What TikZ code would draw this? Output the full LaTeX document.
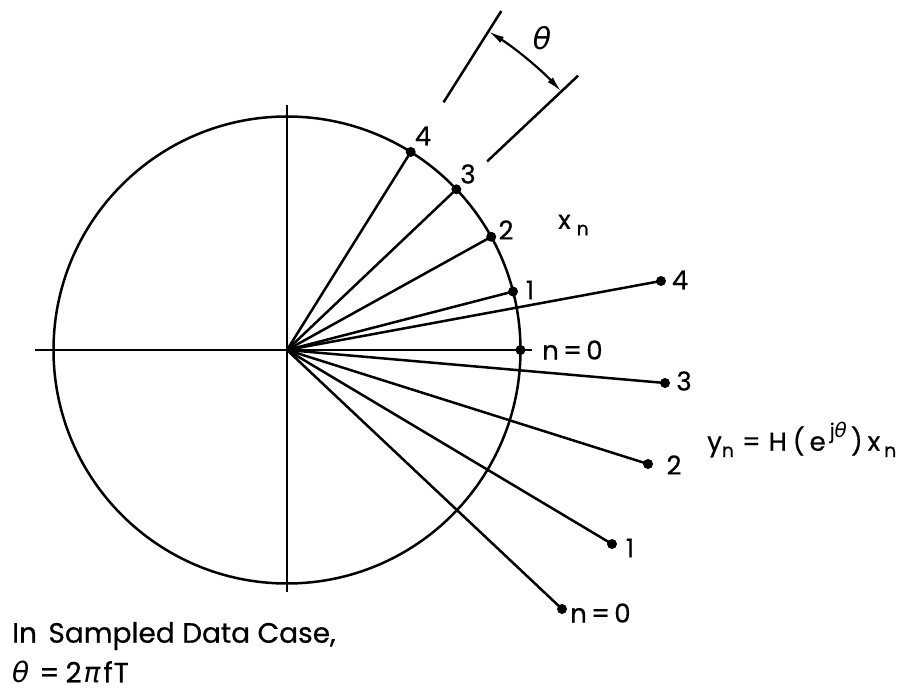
\documentclass[tikz,border=0pt]{standalone}
\usepackage{fontspec}
\setmainfont{Poppins}[FakeBold=0.6,UprightFeatures={FakeBold=0.6}]
\newfontfamily\greekfont{DejaVu Sans}
\usetikzlibrary{arrows.meta,calc}
\newcommand\gk[1]{{\greekfont\itshape #1}}
\newcommand\lowsub[1]{\raisebox{-0.45ex}{\fontsize{19}{19}\selectfont #1}}
\newcommand\highsup[1]{\raisebox{0.9ex}{\fontsize{20}{20}\selectfont #1}}
\begin{document}
\begin{tikzpicture}[x=1pt,y=1pt,
  ln/.style={line width=2.5pt},
  dotmark/.style={circle,fill=black,inner sep=0pt,minimum size=10pt},
  lbl/.style={font=\fontsize{26}{26}\selectfont,inner sep=0pt},
  txt/.style={font=\fontsize{28}{28}\selectfont,inner sep=0pt},
  ftxt/.style={font=\fontsize{26}{26}\selectfont,inner sep=0pt}]
\useasboundingbox (-287,-342) rectangle (614,350);
\coordinate (O) at (0,0);
% circle and axes
\draw[ln] (O) circle[radius=233.5];
\coordinate (axL) at (-252,0);
\coordinate (axT) at (0,245);
\coordinate (axB) at (0,-242);
\draw[ln] (axL) -- (O);
\draw[ln] (axT) -- (axB);
% x_n points on the circle
\node[dotmark] (x0) at (0:233.5) {};
\node[dotmark] (x1) at (14.5:233.5) {};
\node[dotmark] (x2) at (29:233.5) {};
\node[dotmark] (x3) at (43.5:233.5) {};
\node[dotmark] (x4) at (58:233.5) {};
\coordinate (x0e) at (245,0);
\draw[ln] (O) -- (x0e);
\foreach \i in {1,2,3,4} \draw[ln] (O) -- (x\i.center);
% y_n points
\node[dotmark] (y0) at (275,-259) {};
\node[dotmark] (y1) at (325,-194) {};
\node[dotmark] (y2) at (361,-114) {};
\node[dotmark] (y3) at (378,-33) {};
\node[dotmark] (y4) at (374,69) {};
\foreach \i in {0,1,2,3,4} \draw[ln] (O) -- (y\i.center);
% labels on x points
\node[lbl] (lx4) at (136,214) {4};
\node[lbl] (lx3) at (181,176) {3};
\node[lbl] (lx2) at (219,120) {2};
\node[lbl] (lx1) at (243,60) {1};
\node[lbl,anchor=west] (lx0) at (255,0) {n\,=\,0};
\node[lbl,anchor=west] (xn) at (271,125) {x\hspace{6pt}\lowsub{n}};
% labels on y points
\node[lbl] (ly4) at (393,70) {4};
\node[lbl] (ly3) at (397,-31) {3};
\node[lbl] (ly2) at (387,-115) {2};
\node[lbl] (ly1) at (343,-198) {1};
\node[lbl,anchor=west] (ly0) at (283,-263) {n\,=\,0};
% theta marker
\coordinate (ta1) at (57.7:293);
\coordinate (ta2) at (57.7:401);
\coordinate (tb1) at (43.3:275);
\coordinate (tb2) at (43.3:400);
\draw[ln] (ta1) -- (ta2);
\draw[ln] (tb1) -- (tb2);
\coordinate (arcS) at (57.7:377);
\draw[line width=2.2pt,{Latex[length=16pt,width=7pt]}-{Latex[length=16pt,width=7pt]}] (arcS) arc[start angle=57.7,end angle=43.3,radius=377];
\node[font=\fontsize{30}{30}\selectfont,inner sep=0pt] (th) at (255,312) {\gk{θ}};
% formula
\node[ftxt,anchor=west] (formula) at (420,-90) {y\lowsub{n}\hspace{8pt}=\hspace{8pt}H\hspace{6pt}(\hspace{5pt}e\hspace{4pt}\highsup{j\gk{θ}}\hspace{4pt})\hspace{5pt}x\hspace{4pt}\lowsub{n}};
% bottom text
\node[txt,anchor=west] (case) at (-275,-286) {In\hspace{4pt} Sampled Data Case,};
\node[txt,anchor=west] (eq) at (-275,-322) {\gk{θ}\hspace{10pt}=\hspace{6pt}2\hspace{2pt}\gk{π}\hspace{3pt}f\hspace{1pt}T};
\end{tikzpicture}
\end{document}
